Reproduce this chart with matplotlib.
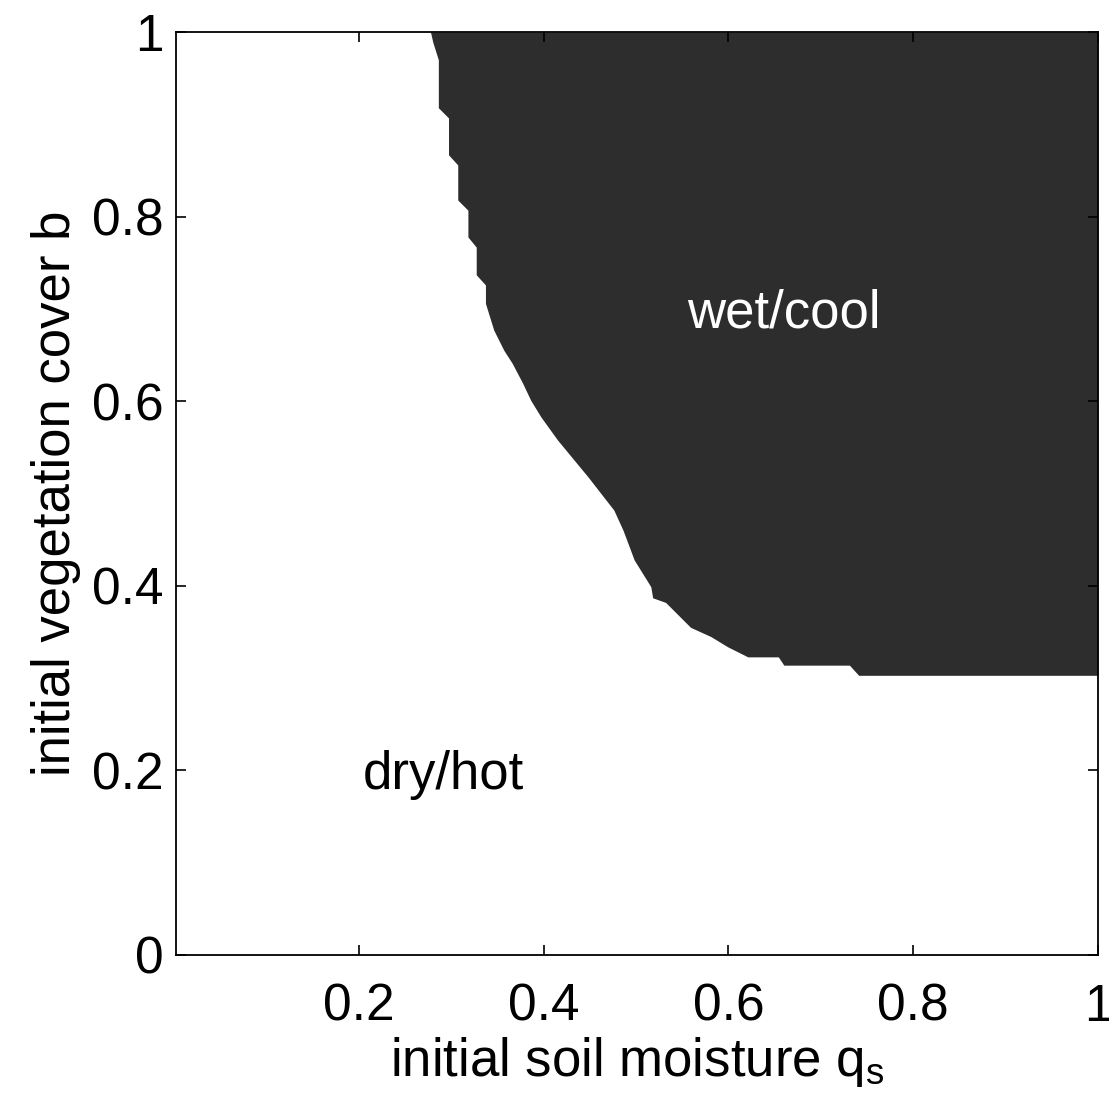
import matplotlib.pyplot as plt

plt.rcParams['font.family'] = ['Liberation Sans', 'DejaVu Sans']

# boundary of the wet/cool region: for each vegetation cover b, the smallest soil moisture q_s
b_edge = [1.0, 0.989, 0.970, 0.918, 0.907, 0.867, 0.856, 0.818, 0.807, 0.778, 0.767,
          0.737, 0.726, 0.706, 0.677, 0.655, 0.641, 0.620, 0.601, 0.583, 0.558, 0.518,
          0.482, 0.460, 0.428, 0.399, 0.387, 0.382, 0.355, 0.345, 0.334, 0.323, 0.323,
          0.314, 0.314, 0.303, 0.303]
qs_edge = [0.2775, 0.280, 0.286, 0.286, 0.297, 0.297, 0.307, 0.307, 0.318, 0.318, 0.327,
           0.327, 0.337, 0.337, 0.346, 0.357, 0.366, 0.377, 0.386, 0.397, 0.415, 0.448,
           0.476, 0.486, 0.498, 0.516, 0.518, 0.532, 0.559, 0.581, 0.599, 0.621, 0.654,
           0.660, 0.731, 0.741, 1.0]

xticks = [0.2, 0.4, 0.6, 0.8, 1.0]
xticklabels = ["0.2", "0.4", "0.6", "0.8", "1"]
yticks = [0, 0.2, 0.4, 0.6, 0.8, 1.0]
yticklabels = ["0", "0.2", "0.4", "0.6", "0.8", "1"]

fig = plt.figure(figsize=(11.09, 11.09), dpi=100)
ax = fig.add_axes([0.1587, 0.1389, 0.8313, 0.8322])

ax.fill_betweenx(b_edge, qs_edge, 1.0, color="#2d2d2d", linewidth=0)

ax.text(0.66, 0.695, "wet/cool", color="white", fontsize=38, ha="center", va="center")
ax.text(0.291, 0.195, "dry/hot", color="black", fontsize=38, ha="center", va="center")

ax.set_xlim(0.002, 1)
ax.set_ylim(0, 1)
ax.set_xticks(xticks)
ax.set_xticklabels(xticklabels)
ax.set_yticks(yticks)
ax.set_yticklabels(yticklabels)

ax.tick_params(direction="in", length=7, width=1.2, top=True, right=True, labelsize=37)
ax.tick_params(axis="x", pad=20)
ax.tick_params(axis="y", pad=9)
for s in ax.spines.values():
    s.set_linewidth(1.3)

ax.set_xlabel("initial soil moisture q$_\\mathregular{s}$", fontsize=38, labelpad=2)
ax.set_ylabel("initial vegetation cover b", fontsize=38, labelpad=8)

plt.savefig("out.png", dpi=100)
